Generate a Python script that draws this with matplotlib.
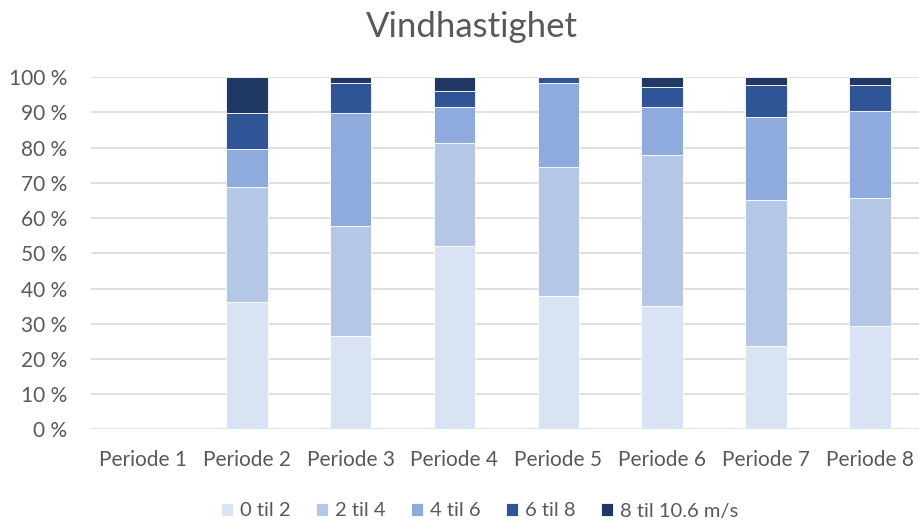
import matplotlib
matplotlib.use("Agg")
import matplotlib.pyplot as plt
import numpy as np

categories = ["Periode 1", "Periode 2", "Periode 3", "Periode 4", "Periode 5", "Periode 6", "Periode 7", "Periode 8"]
series_names = ["0 til 2", "2 til 4", "4 til 6", "6 til 8", "8 til 10.6 m/s"]
s0_2 = [0, 36.2, 26.5, 52.1, 37.9, 35.0, 23.8, 29.4]
s2_4 = [0, 32.7, 31.3, 29.2, 36.6, 42.9, 41.3, 36.2]
s4_6 = [0, 10.7, 32.0, 10.3, 23.8, 13.6, 23.5, 24.7]
s6_8 = [0, 10.2, 8.5, 4.5, 1.7, 5.7, 9.1, 7.4]
s8_10 = [0, 10.2, 1.7, 3.9, 0, 2.8, 2.3, 2.3]
yticks = [0, 10, 20, 30, 40, 50, 60, 70, 80, 90, 100]
colors = ["#DAE3F3", "#B4C7E7", "#8FAADC", "#2F5597", "#203864"]

plt.rcParams['font.family'] = ['Lato', 'DejaVu Sans']
fig = plt.figure(figsize=(9.19, 5.24), dpi=100)
ax = fig.add_axes([0.099, 0.1807, 0.904, 0.6718])

x = np.arange(len(categories))
bottom = np.zeros(len(categories))
for name, vals, c in zip(series_names, [s0_2, s2_4, s4_6, s6_8, s8_10], colors):
    vals = np.array(vals, dtype=float)
    ax.bar(x, vals, 0.4, bottom=bottom, color=c, label=name, edgecolor="white", linewidth=0.6, zorder=3)
    bottom += vals

ax.set_ylim(0, 100)
ax.set_xlim(-0.5, len(categories) - 0.5)
ax.set_yticks(yticks)
ax.set_yticklabels([f"{v} %" for v in yticks])
ax.set_xticks(x)
ax.set_xticklabels(categories)
ax.grid(axis='y', color="#D9D9D9", linewidth=1.2, zorder=0)
ax.tick_params(axis='both', length=0, labelsize=15, colors="#595959")
ax.tick_params(axis='y', pad=17)
ax.tick_params(axis='x', pad=15)
for s in ax.spines.values():
    s.set_visible(False)

fig.text(0.513, 1 - 37 / 524, "Vindhastighet", fontsize=25, color="#595959", ha="center", va="baseline")
leg = fig.legend(loc="center", ncol=5, frameon=False, bbox_to_anchor=(0.522, 1 - 511 / 524),
                 fontsize=14.5, handlelength=0.6, handleheight=0.6, handletextpad=0.35, columnspacing=1.25)
for t in leg.get_texts():
    t.set_color("#595959")

fig.savefig("out.png", dpi=100)
